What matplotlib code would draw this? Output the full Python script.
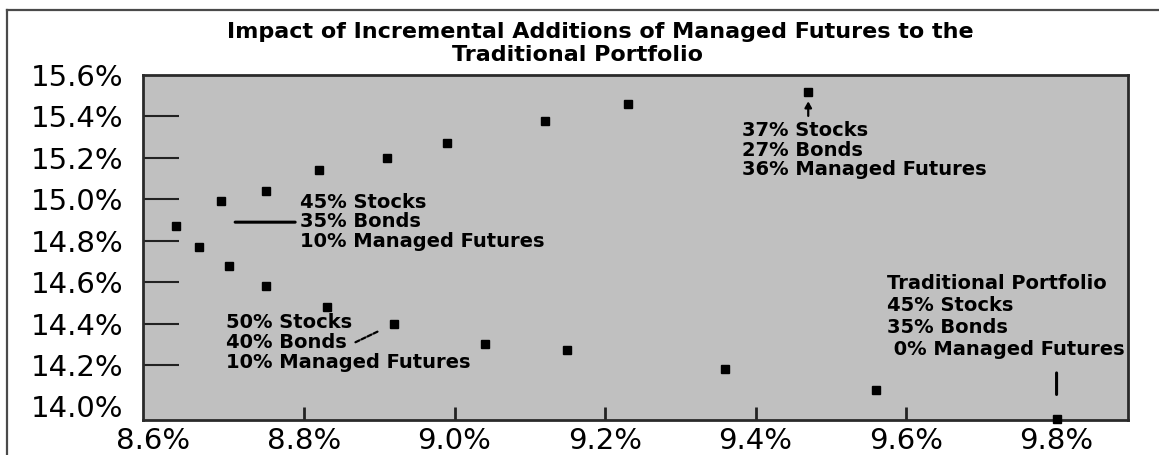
import matplotlib.pyplot as plt
from matplotlib.lines import Line2D
from matplotlib.text import OffsetFrom

# risk (std dev, %) and return (%) for each portfolio mix, traditional portfolio first
risk = [9.80, 9.56, 9.36, 9.15, 9.04, 8.92, 8.83, 8.75, 8.70, 8.66,
        8.63, 8.69, 8.75, 8.82, 8.91, 8.99, 9.12, 9.23, 9.47]
ret = [13.94, 14.08, 14.18, 14.27, 14.30, 14.40, 14.48, 14.58, 14.68, 14.77,
       14.87, 14.99, 15.04, 15.14, 15.20, 15.27, 15.38, 15.46, 15.52]

xticks = [8.6, 8.8, 9.0, 9.2, 9.4, 9.6, 9.8]
yticks = [14.0, 14.2, 14.4, 14.6, 14.8, 15.0, 15.2, 15.4, 15.6]

trad_idx = 0     # traditional portfolio
low10_idx = 5    # 50/40/10
high10_idx = 10  # 45/35/10
max_idx = 18     # 37/27/36

fig = plt.figure(figsize=(11.59, 4.55), dpi=100)
ax = fig.add_axes([0.1234, 0.0769, 0.8499, 0.7582])
ax.set_facecolor('#c0c0c0')

ax.plot(risk, ret, 's', color='black', markersize=5.2, clip_on=False, zorder=5)

ax.set_xlim(8.586, 9.895)
ax.set_ylim(13.934, 15.6)
ax.set_xticks(xticks)
ax.set_yticks(yticks)
ax.set_xticklabels(['%.1f%%' % v for v in xticks])
ax.set_yticklabels(['%.1f%%' % v for v in yticks])
ax.tick_params(axis='y', direction='in', length=26, width=1.5, color='#222222',
               labelsize=21, pad=14)
ax.tick_params(axis='x', direction='in', length=9.5, width=2, color='#222222',
               labelsize=21, pad=5)
for t in ax.yaxis.get_major_ticks():
    if t.get_loc() in (14.0, 15.6):
        t.tick1line.set_visible(False)
for t in ax.xaxis.get_major_ticks():
    if t.get_loc() in (8.6, 9.8):
        t.tick1line.set_visible(False)
for s in ax.spines.values():
    s.set_color('#2a2a2a')
    s.set_linewidth(2)

bold = dict(fontsize=14, fontweight='bold', family='DejaVu Sans', color='black')

ax.text(0.1594, 0.574, '45% Stocks\n35% Bonds\n10% Managed Futures',
        transform=ax.transAxes, ha='left', va='center', linespacing=1.06, **bold)
ax.text(0.6078, 0.7826, '37% Stocks\n27% Bonds\n36% Managed Futures',
        transform=ax.transAxes, ha='left', va='center', linespacing=1.06, **bold)
ax.text(0.7553, 0.301, 'Traditional Portfolio\n45% Stocks\n35% Bonds\n 0% Managed Futures',
        transform=ax.transAxes, ha='left', va='center', linespacing=1.2, **bold)
ax.text(0.0843, 0.2246, '50% Stocks\n40% Bonds\n10% Managed Futures',
        transform=ax.transAxes, ha='left', va='center', linespacing=1.06, **bold)

# pointer lines
ref_hi = OffsetFrom(ax.transData, (risk[high10_idx], ret[high10_idx]))
ax.annotate('', xy=(42.5, 2.9), xycoords=ref_hi, xytext=(85.7, 2.9), textcoords=ref_hi,
            arrowprops=dict(arrowstyle='-', lw=2.2, color='black', shrinkA=0, shrinkB=0))
ax.annotate('', xy=(risk[low10_idx], ret[low10_idx]), xytext=(-28, -13.5),
            textcoords='offset points',
            arrowprops=dict(arrowstyle='-', lw=1.6, color='black', linestyle=(0, (2, 1)),
                            shrinkA=0, shrinkB=13.5))
ax.annotate('', xy=(risk[max_idx], ret[max_idx]), xytext=(0, -17.5),
            textcoords='offset points',
            arrowprops=dict(arrowstyle='-|>,head_length=0.35,head_width=0.2', lw=1.6,
                            color='black', shrinkA=0, shrinkB=7))
ax.annotate('', xy=(risk[trad_idx], ret[trad_idx]), xytext=(0, 33),
            textcoords='offset points',
            arrowprops=dict(arrowstyle='-', lw=2.2, color='black', shrinkA=0, shrinkB=17.5))

title_kw = dict(fontsize=16, fontweight='bold', family='DejaVu Sans', ha='center', va='center')
fig.text(600 / 1159, 1 - 32 / 455, 'Impact of Incremental Additions of Managed Futures to the', **title_kw)
fig.text(578 / 1159, 1 - 55 / 455, 'Traditional Portfolio', **title_kw)

# outer frame (top and left edges visible)
fig.add_artist(Line2D([7 / 1159, 7 / 1159], [0, 1 - 10 / 455], transform=fig.transFigure,
                      color='#4a4a4a', lw=1.6))
fig.add_artist(Line2D([7 / 1159, 1], [1 - 10 / 455, 1 - 10 / 455], transform=fig.transFigure,
                      color='#4a4a4a', lw=1.6))

fig.savefig('out.png', dpi=100)
